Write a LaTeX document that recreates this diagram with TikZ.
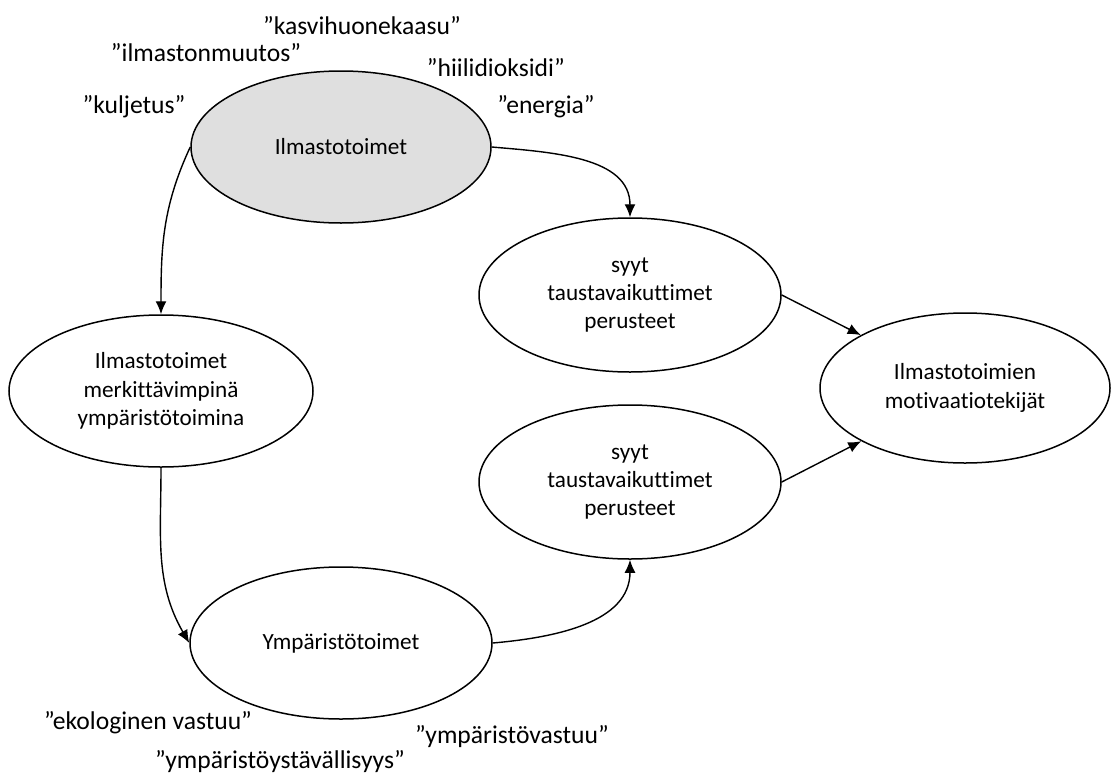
\documentclass[tikz,border=0pt]{standalone}
\usepackage{fontspec}
\setmainfont{Carlito}[Ligatures=NoCommon]
\usetikzlibrary{arrows.meta,shapes.geometric}
\begin{document}
\begin{tikzpicture}[x=0.5pt,y=0.5pt,
  oval/.style={draw, line width=0.75pt, ellipse, inner sep=0pt, align=center,
    font=\fontsize{11.6}{14.2}\selectfont},
  lbl/.style={font=\fontsize{12.8}{15}\selectfont, inner sep=0pt},
  arr/.style={-{Latex[length=6.5pt,width=5.5pt]}, line width=0.7pt}]
\useasboundingbox (0,0) rectangle (1113,-776);
\node[oval, fill=gray!25, minimum width=150pt, minimum height=76pt] (ilm) at (341,-147) {Ilmastotoimet};
\node[oval, minimum width=151pt, minimum height=77pt] (syy1) at (630,-295) {syyt\\taustavaikuttimet\\perusteet};
\node[oval, minimum width=151pt, minimum height=77pt] (syy2) at (630,-482) {syyt\\taustavaikuttimet\\perusteet};
\node[oval, minimum width=145pt, minimum height=75pt] (mot) at (965,-388) {Ilmastotoimien\\motivaatiotekijät};
\node[oval, minimum width=152pt, minimum height=76pt] (merk) at (161,-391) {Ilmastotoimet\\merkittävimpinä\\ympäristötoimina};
\node[oval, minimum width=151pt, minimum height=76pt] (ymp) at (341,-643) {Ympäristötoimet};

\node[lbl] (l1) at (362,-26) {”kasvihuonekaasu”};
\node[lbl] (l2) at (206,-53) {”ilmastonmuutos”};
\node[lbl] (l3) at (496,-68) {”hiilidioksidi”};
\node[lbl] (l4) at (134,-107) {”kuljetus”};
\node[lbl] (l5) at (546,-107) {”energia”};
\node[lbl] (l6) at (148,-723) {”ekologinen vastuu”};
\node[lbl] (l7) at (280,-762) {”ympäristöystävällisyys”};
\node[lbl] (l8) at (512,-737) {”ympäristövastuu”};

\draw[arr] (ilm.west) to[out=245, in=90] (merk.north);
\draw[arr] (ilm.east) to[out=-5, in=90] (syy1.north);
\draw[arr] (merk.south) to[out=-90, in=120] (ymp.west);
\draw[arr] (ymp.east) to[out=5, in=-90] (syy2.south);
\draw[arr] (syy1.east) -- (mot);
\draw[arr] (syy2.east) -- (mot);
\end{tikzpicture}
\end{document}
